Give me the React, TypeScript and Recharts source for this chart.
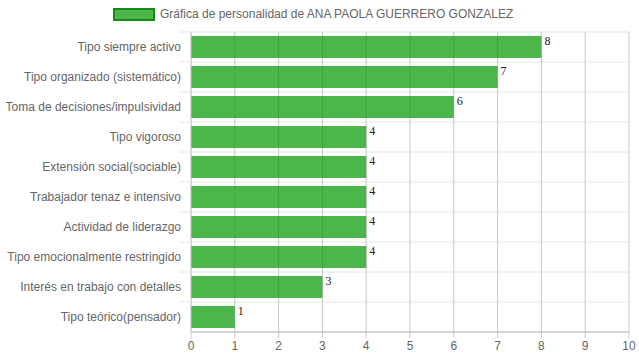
import { BarChart, Bar, XAxis, YAxis, CartesianGrid, LabelList } from 'recharts'

const categories = [
  'Tipo siempre activo',
  'Tipo organizado (sistemático)',
  'Toma de decisiones/impulsividad',
  'Tipo vigoroso',
  'Extensión social(sociable)',
  'Trabajador tenaz e intensivo',
  'Actividad de liderazgo',
  'Tipo emocionalmente restringido',
  'Interés en trabajo con detalles',
  'Tipo teórico(pensador)',
]
const scores = [8, 7, 6, 4, 4, 4, 4, 4, 3, 1]
const xTicks = [0, 1, 2, 3, 4, 5, 6, 7, 8, 9, 10]
const seriesName = 'Gráfica de personalidad de ANA PAOLA GUERRERO GONZALEZ'

const data = categories.map((name, i) => ({ name, value: scores[i] }))

const FONT = '"Liberation Sans", Arial, sans-serif'
const ROW = 30

function ValueLabel(props: any) {
  const { x, y, width, value } = props
  return (
    <text
      x={x + width + 3}
      y={y + 9}
      fontFamily='"Liberation Serif", "Times New Roman", serif'
      fontSize={12}
      fill="#222"
    >
      {value}
    </text>
  )
}

// category label plus a short tick at the row's upper boundary
function CategoryTick(props: any) {
  const { x, y, payload } = props
  const axisX = x + 10
  return (
    <g>
      <line x1={axisX - 11} x2={axisX} y1={y - ROW / 2} y2={y - ROW / 2} stroke="#e6e6e6" />
      <text x={axisX - 10} y={y} dy="0.35em" textAnchor="end" fill="#666" fontSize={12} fontFamily={FONT}>
        {payload.value}
      </text>
    </g>
  )
}

export default function App() {
  return (
    <div style={{ position: 'absolute', left: 0, top: 0, width: 639, height: 360, background: '#fff' }}>
      {/* legend */}
      <div
        style={{
          position: 'absolute',
          left: 113,
          top: 7,
          display: 'flex',
          alignItems: 'center',
          fontFamily: FONT,
          fontSize: 12,
          color: '#666',
        }}
      >
        <span
          style={{
            display: 'inline-block',
            width: 38,
            height: 9,
            background: 'rgba(0,149,0,0.7)',
            border: '2px solid #168a16',
            marginRight: 5,
          }}
        />
        <span>{seriesName}</span>
      </div>

      <BarChart
        width={639}
        height={360}
        data={data}
        layout="vertical"
        margin={{ top: 32, right: 10, bottom: 0, left: 0 }}
      >
        <CartesianGrid
          vertical={false}
          stroke="#e6e6e6"
          horizontalCoordinatesGenerator={({ offset }: any) =>
            categories.map((_, i) => offset.top + (i * offset.height) / categories.length)
          }
        />
        <CartesianGrid horizontal={false} stroke="#c8c8c8" />
        <XAxis
          type="number"
          domain={[0, 10]}
          ticks={xTicks}
          interval={0}
          height={28}
          tickSize={6}
          tickMargin={3}
          axisLine={{ stroke: '#aaa' }}
          tickLine={{ stroke: '#c8c8c8' }}
          tick={{ fill: '#666', fontSize: 12, fontFamily: FONT }}
        />
        <YAxis
          type="category"
          dataKey="name"
          width={191}
          tickSize={10}
          tickMargin={0}
          interval={0}
          axisLine={{ stroke: '#d0d0d0' }}
          tickLine={false}
          tick={<CategoryTick />}
        />
        <Bar
          dataKey="value"
          fill="rgba(0,149,0,0.7)"
          barSize={22}
          isAnimationActive={false}
        >
          <LabelList dataKey="value" content={<ValueLabel />} />
        </Bar>
      </BarChart>
    </div>
  )
}
